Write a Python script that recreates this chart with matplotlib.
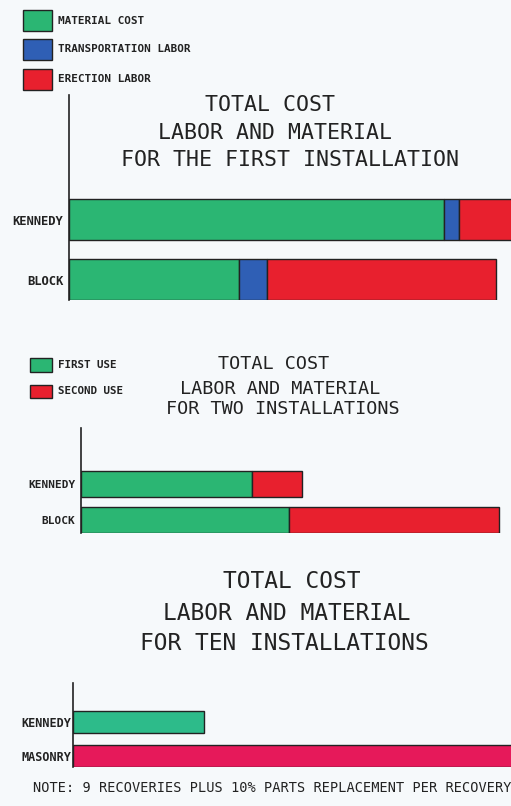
import numpy as np
import matplotlib
matplotlib.use('Agg')
import matplotlib.pyplot as plt
from matplotlib.patches import Rectangle

# --- data (arbitrary cost units) ---
first_cats = ['BLOCK', 'KENNEDY']
first_material = [170, 375]
first_transport = [28, 15]
first_erection = [229, 70]

two_cats = ['BLOCK', 'KENNEDY']
two_first_use = [208, 171]
two_second_use = [210, 50]

ten_cats = ['MASONRY', 'KENNEDY']
ten_cost = [460, 131]

GREEN = '#2bb673'
TEAL = '#2dbb8a'
BLUE = '#2f5fb5'
RED = '#e8202e'
CRIMSON = '#e6195a'
EDGE = '#222222'
INK = '#222222'
BG = '#f6f9fb'
MONO = 'DejaVu Sans Mono'

W, H = 511, 806
fig = plt.figure(figsize=(W / 100, H / 100), dpi=100, facecolor=BG)


def fx(x):
    return x / W


def fy(y):
    return 1 - y / H


def make_ax(left, right, top, bottom):
    ax = fig.add_axes([fx(left), fy(bottom), (right - left) / W, (bottom - top) / H])
    ax.set_facecolor('none')
    for s in ['top', 'right', 'bottom']:
        ax.spines[s].set_visible(False)
    ax.spines['left'].set_color(INK)
    ax.spines['left'].set_linewidth(1.2)
    ax.set_xticks([])
    return ax


def legend_box(x0, x1, y0, y1, color, label, size):
    fig.add_artist(Rectangle((fx(x0), fy(y1)), (x1 - x0) / W, (y1 - y0) / H,
                             transform=fig.transFigure, facecolor=color,
                             edgecolor=EDGE, linewidth=1.0))
    fig.text(fx(x1 + 6), fy((y0 + y1) / 2), label, ha='left', va='center',
             fontsize=size, fontweight='bold', family=MONO, color=INK)


# ---------------- panel 1 ----------------
legend_box(23, 52, 10, 31, GREEN, 'MATERIAL COST', 7.9)
legend_box(23, 52, 39, 60, BLUE, 'TRANSPORTATION LABOR', 7.9)
legend_box(23, 52, 69, 90, RED, 'ERECTION LABOR', 7.9)

for txt, x, y in [('TOTAL COST', 270, 105),
                  ('LABOR AND MATERIAL', 275, 133),
                  ('FOR THE FIRST INSTALLATION', 290, 160)]:
    fig.text(fx(x), fy(y), txt, ha='center', va='center', fontsize=15.5,
             family=MONO, color=INK)

ax1 = make_ax(69, 511, 95, 300)
y1 = np.arange(len(first_cats))
left = np.zeros(len(first_cats))
for vals, col in [(first_material, GREEN), (first_transport, BLUE), (first_erection, RED)]:
    ax1.barh(y1, vals, left=left, height=0.68, color=col, edgecolor=EDGE, linewidth=1.0)
    left += np.array(vals)
ax1.set_xlim(0, 442)
ax1.set_ylim(-0.34, 3.08)
ax1.set_yticks(y1)
ax1.set_yticklabels(first_cats, fontsize=8.7, fontweight='bold', family=MONO, color=INK)
ax1.tick_params(axis='y', length=0, pad=4)

# ---------------- panel 2 ----------------
legend_box(30, 52, 358, 372, GREEN, 'FIRST USE', 7.8)
legend_box(30, 52, 385, 398, RED, 'SECOND USE', 7.8)

for txt, x, y in [('TOTAL COST', 274, 364),
                  ('LABOR AND MATERIAL', 280, 389),
                  ('FOR TWO INSTALLATIONS', 283, 409)]:
    fig.text(fx(x), fy(y), txt, ha='center', va='center', fontsize=13.3,
             family=MONO, color=INK)

ax2 = make_ax(81, 511, 428, 533)
y2 = np.arange(len(two_cats))
ax2.barh(y2, two_first_use, height=0.72, color=GREEN, edgecolor=EDGE, linewidth=1.0)
ax2.barh(y2, two_second_use, left=two_first_use, height=0.72, color=RED,
         edgecolor=EDGE, linewidth=1.0)
ax2.set_xlim(0, 430)
ax2.set_ylim(-0.36, 2.56)
ax2.set_yticks(y2)
ax2.set_yticklabels(two_cats, fontsize=8.0, fontweight='bold', family=MONO, color=INK)
ax2.tick_params(axis='y', length=0, pad=4)

# ---------------- panel 3 ----------------
for txt, x, y in [('TOTAL COST', 292, 582),
                  ('LABOR AND MATERIAL', 287, 613),
                  ('FOR TEN INSTALLATIONS', 284, 643)]:
    fig.text(fx(x), fy(y), txt, ha='center', va='center', fontsize=16.5,
             family=MONO, color=INK)

ax3 = make_ax(73, 511, 683, 767)
y3 = np.arange(len(ten_cats))
ax3.barh(y3, ten_cost, height=0.65, color=[CRIMSON, TEAL], edgecolor=EDGE, linewidth=1.0)
ax3.set_xlim(0, 438)
ax3.set_ylim(-0.325, 2.15)
ax3.set_yticks(y3)
ax3.set_yticklabels(ten_cats, fontsize=8.5, fontweight='bold', family=MONO, color=INK)
ax3.tick_params(axis='y', length=0, pad=1.5)

fig.text(fx(272), fy(788), 'NOTE: 9 RECOVERIES PLUS 10% PARTS REPLACEMENT PER RECOVERY',
         ha='center', va='center', fontsize=9.8, family=MONO, color=INK)

fig.savefig('out.png', dpi=100, facecolor=BG)
